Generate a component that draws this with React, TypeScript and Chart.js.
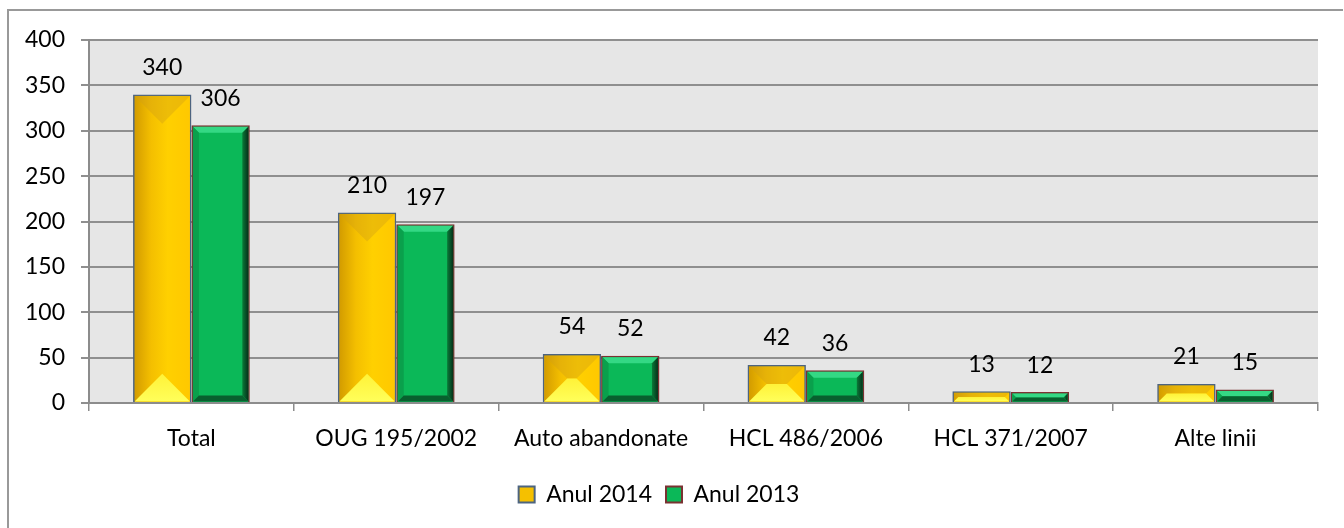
import React, { useEffect, useRef } from "react";
import { Chart, registerables } from "chart.js";

Chart.register(...registerables);

const categories = ["Total", "OUG 195/2002", "Auto abandonate", "HCL 486/2006", "HCL 371/2007", "Alte linii"];
const series2014 = [340, 210, 54, 42, 13, 21];
const series2013 = [306, 197, 52, 36, 12, 15];
const seriesNames = ["Anul 2014", "Anul 2013"];
const yTicks = { min: 0, max: 400, step: 50 };

const FONT = "Lato, 'Open Sans', sans-serif";
const FS = 23;

const bgPlugin = {
  id: "bgPlugin",
  beforeDraw(chart: any) {
    const { ctx, chartArea } = chart;
    ctx.save();
    ctx.fillStyle = "#ffffff";
    ctx.fillRect(0, 0, chart.width, chart.height);
    ctx.fillStyle = "#e6e6e6";
    ctx.fillRect(chartArea.left, chartArea.top, chartArea.right - chartArea.left, chartArea.bottom - chartArea.top);
    ctx.strokeStyle = "#999999";
    ctx.lineWidth = 2;
    ctx.beginPath();
    ctx.moveTo(8, chart.height);
    ctx.lineTo(8, 10);
    ctx.lineTo(chart.width - 1, 10);
    ctx.stroke();
    ctx.restore();
  },
};

function poly(ctx: any, pts: number[][], fill: any) {
  ctx.beginPath();
  ctx.moveTo(pts[0][0], pts[0][1]);
  for (let i = 1; i < pts.length; i++) ctx.lineTo(pts[i][0], pts[i][1]);
  ctx.closePath();
  ctx.fillStyle = fill;
  ctx.fill();
}

const bevelPlugin = {
  id: "bevelPlugin",
  afterDatasetsDraw(chart: any) {
    const ctx = chart.ctx;
    ctx.save();
    chart.data.datasets.forEach((ds: any, di: number) => {
      const meta = chart.getDatasetMeta(di);
      meta.data.forEach((el: any) => {
        const p = el.getProps(["x", "y", "base", "width"], true);
        const bw = 2;
        const x0 = p.x - p.width / 2 + bw / 2 + 0.5;
        const x1 = p.x + p.width / 2 - bw / 2 - 0.5;
        const t = Math.min(p.y, p.base) + bw / 2 + 0.5;
        const B = Math.max(p.y, p.base) - 0.5;
        const w = x1 - x0;
        const h = B - t;
        if (w <= 0 || h <= 0) return;
        if (di === 0) {
          const g = ctx.createLinearGradient(x0, 0, x1, 0);
          g.addColorStop(0, "#d39c00");
          g.addColorStop(0.3, "#f4bf00");
          g.addColorStop(0.6, "#ffd000");
          g.addColorStop(1, "#ffc800");
          ctx.fillStyle = g;
          ctx.fillRect(x0, t, w, h);
          const b = Math.min(w / 2, h / 2);
          poly(ctx, [[x0, t], [x1, t], [x1 - b, t + b], [x0 + b, t + b]], "rgba(210,160,20,0.4)");
          const g2 = ctx.createLinearGradient(0, B - b, 0, B);
          g2.addColorStop(0, "#fff238");
          g2.addColorStop(1, "#ffff5a");
          poly(ctx, [[x0, B], [x1, B], [x1 - b, B - b], [x0 + b, B - b]], g2);
        } else {
          ctx.fillStyle = "#0bb858";
          ctx.fillRect(x0, t, w, h);
          const b = Math.min(6, w / 2, h / 2);
          poly(ctx, [[x0, t], [x1, t], [x1 - b, t + b], [x0 + b, t + b]], "#34d884");
          poly(ctx, [[x0, t], [x0 + b, t + b], [x0 + b, B - b], [x0, B]], "#0aa04c");
          const gr = ctx.createLinearGradient(x1 - b, 0, x1, 0);
          gr.addColorStop(0, "#0a7a38");
          gr.addColorStop(1, "#05301a");
          poly(ctx, [[x1, t], [x1 - b, t + b], [x1 - b, B - b], [x1, B]], gr);
          poly(ctx, [[x0, B], [x0 + b, B - b], [x1 - b, B - b], [x1, B]], "#08602e");
        }
      });
    });
    ctx.restore();
  },
};

const labelPlugin = {
  id: "labelPlugin",
  afterDatasetsDraw(chart: any) {
    const ctx = chart.ctx;
    ctx.save();
    ctx.font = `${FS}px ${FONT}`;
    ctx.fillStyle = "#000000";
    ctx.textAlign = "center";
    ctx.textBaseline = "middle";
    chart.data.datasets.forEach((ds: any, di: number) => {
      const meta = chart.getDatasetMeta(di);
      meta.data.forEach((el: any, i: number) => {
        const p = el.getProps(["x", "y"], true);
        ctx.fillText(String(ds.data[i]), p.x, p.y - 27);
      });
    });
    ctx.restore();
  },
};

export default function App() {
  const ref = useRef<HTMLCanvasElement | null>(null);
  useEffect(() => {
    if (!ref.current) return;
    const chart = new Chart(ref.current, {
      type: "bar",
      data: {
        labels: categories,
        datasets: [
          {
            label: seriesNames[0],
            data: series2014,
            backgroundColor: "#f5c000",
            borderColor: "#4d6480",
            borderWidth: 2,
            categoryPercentage: 0.57,
            barPercentage: 1,
          },
          {
            label: seriesNames[1],
            data: series2013,
            backgroundColor: "#0bb858",
            borderColor: "#7a3232",
            borderWidth: 2,
            categoryPercentage: 0.57,
            barPercentage: 1,
          },
        ],
      },
      options: {
        animation: false,
        responsive: true,
        maintainAspectRatio: false,
        layout: { padding: { top: 40, right: 26, left: 0, bottom: 12 } },
        plugins: {
          legend: {
            position: "bottom",
            labels: {
              boxWidth: 16,
              boxHeight: 16,
              color: "#000000",
              font: { family: FONT, size: FS },
              padding: 14,
            },
          },
          tooltip: { enabled: false },
        },
        scales: {
          x: {
            afterFit: (s: any) => { s.height = 66; },
            grid: {
              offset: true,
              drawOnChartArea: false,
              drawTicks: true,
              tickLength: 8,
              color: "#8c8c8c",
              lineWidth: 1.5,
            },
            border: { display: true, color: "#8c8c8c", width: 2 },
            ticks: {
              color: "#000000",
              font: { family: FONT, size: FS },
              padding: 14,
              maxRotation: 0,
              autoSkip: false,
            },
          },
          y: {
            min: yTicks.min,
            max: yTicks.max,
            afterFit: (s: any) => { s.width = 89; },
            grid: {
              color: "#8f8f8f",
              lineWidth: 2,
              tickLength: 8,
              drawTicks: true,
            },
            border: { display: true, color: "#8c8c8c", width: 2 },
            ticks: {
              stepSize: yTicks.step,
              color: "#000000",
              font: { family: FONT, size: FS },
              padding: 16,
            },
          },
        },
      },
      plugins: [bgPlugin, bevelPlugin, labelPlugin],
    });
    return () => chart.destroy();
  }, []);
  return (
    <div style={{ position: "fixed", left: 0, top: 0, width: 1344, height: 528, background: "#fff" }}>
      <canvas ref={ref} />
    </div>
  );
}
